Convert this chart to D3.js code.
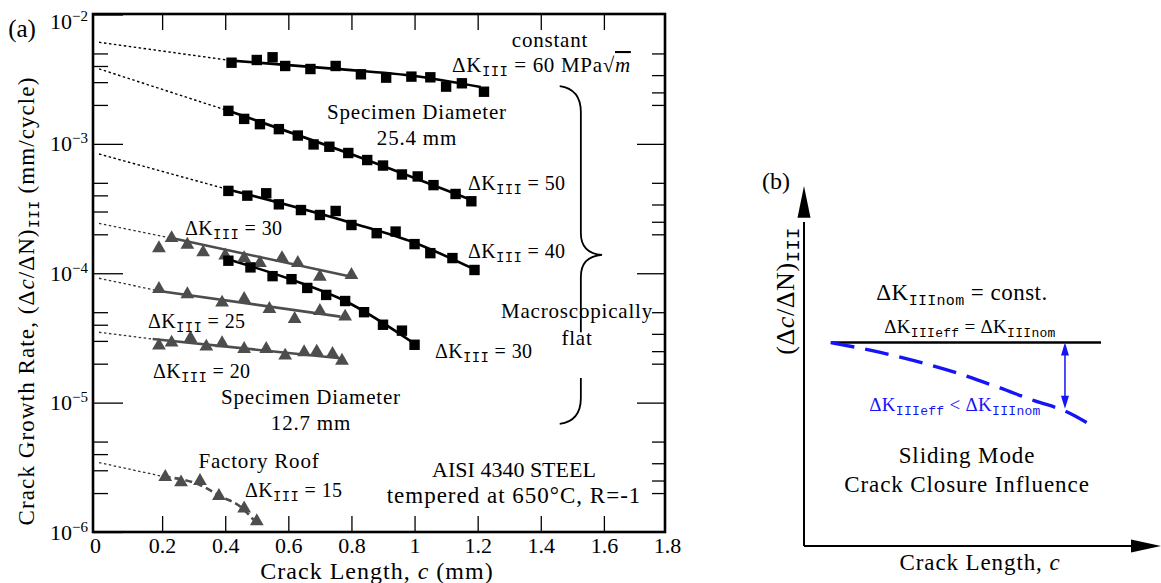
<!DOCTYPE html>
<html><head><meta charset="utf-8">
<script src="https://cdn.jsdelivr.net/npm/d3@7/dist/d3.min.js"></script>
<style>
body{margin:0;background:#fff;}
svg text{font-family:"Liberation Serif","Times New Roman",serif;fill:#000;}
</style></head>
<body><svg id="chart" width="1161" height="583" xmlns="http://www.w3.org/2000/svg"></svg>
<script>
// ================= DATA =================
// Panel (a): crack length c (mm) vs crack growth rate dc/dN (mm/cycle)
const xTickValues = [0, 0.2, 0.4, 0.6, 0.8, 1.0, 1.2, 1.4, 1.6, 1.8];
const xInnerTicks = [0.2, 0.4, 0.6, 0.8, 1.0, 1.2, 1.4, 1.6];
const yDecades = [1e-6, 1e-5, 1e-4, 1e-3, 1e-2];
const leftMinorMultipliers = [2, 3, 4, 5];
const rightMinorMultipliers = [2, 2.5, 3.4, 5];

// Specimen diameter 25.4 mm (squares)
const sq60 = [[0.42,4.24e-3],[0.50,4.45e-3],[0.55,4.67e-3],[0.59,4.0e-3],[0.67,3.79e-3],[0.75,4.0e-3],[0.83,3.45e-3],[0.91,3.25e-3],[0.99,3.31e-3],[1.05,3.27e-3],[1.10,2.77e-3],[1.15,2.94e-3],[1.22,2.53e-3]];
const fit60 = [[0.42,4.4e-3],[0.75,3.8e-3],[1.0,3.35e-3],[1.21,2.75e-3]];
const ext60 = [[0,6.1e-3],[0.42,4.4e-3]];

const sq50 = [[0.41,1.80e-3],[0.46,1.56e-3],[0.51,1.42e-3],[0.57,1.30e-3],[0.63,1.16e-3],[0.68,9.9e-4],[0.73,9.5e-4],[0.79,8.5e-4],[0.85,7.5e-4],[0.90,6.8e-4],[0.96,5.8e-4],[1.01,5.6e-4],[1.06,4.8e-4],[1.13,4.1e-4],[1.18,3.6e-4]];
const fit50 = [[0.41,1.8e-3],[0.8,8.3e-4],[1.19,3.6e-4]];
const ext50 = [[0,3.8e-3],[0.41,1.8e-3]];

const sq40 = [[0.41,4.33e-4],[0.47,3.98e-4],[0.53,4.15e-4],[0.57,3.41e-4],[0.64,3.08e-4],[0.70,2.82e-4],[0.75,3.03e-4],[0.80,2.36e-4],[0.88,2.04e-4],[0.94,2.10e-4],[1.00,1.68e-4],[1.05,1.43e-4],[1.12,1.31e-4],[1.19,1.06e-4]];
const fit40 = [[0.40,4.5e-4],[0.8,2.45e-4],[1.0,1.72e-4],[1.19,1.07e-4]];
const ext40 = [[0,8.35e-4],[0.40,4.5e-4]];

const sq30 = [[0.41,1.25e-4],[0.48,1.11e-4],[0.55,9.5e-5],[0.61,9.0e-5],[0.66,7.7e-5],[0.72,6.8e-5],[0.78,6.1e-5],[0.84,5.0e-5],[0.90,4.0e-5],[0.96,3.6e-5],[1.00,2.8e-5]];
const fitS30 = [[0.40,1.3e-4],[0.6,9.1e-5],[0.78,6.1e-5],[1.0,2.85e-5]];

// Specimen diameter 12.7 mm (triangles)
const tri30 = [[0.19,1.56e-4],[0.23,1.87e-4],[0.28,1.66e-4],[0.33,1.45e-4],[0.40,1.37e-4],[0.46,1.31e-4],[0.51,1.20e-4],[0.58,1.31e-4],[0.63,1.20e-4],[0.70,9.4e-5],[0.80,9.7e-5]];
const fitT30 = [[0.23,1.87e-4],[0.80,9.4e-5]];
const extT30 = [[0,2.43e-4],[0.23,1.87e-4]];

const tri25 = [[0.19,7.56e-5],[0.28,6.88e-5],[0.39,5.93e-5],[0.46,6.33e-5],[0.54,5.30e-5],[0.62,4.43e-5],[0.70,5.11e-5],[0.78,4.62e-5]];
const fitT25 = [[0.19,7.3e-5],[0.765,4.62e-5]];
const extT25 = [[0,9.15e-5],[0.19,7.3e-5]];

const tri20 = [[0.19,2.76e-5],[0.23,2.91e-5],[0.29,3.15e-5],[0.34,2.71e-5],[0.39,2.88e-5],[0.46,2.60e-5],[0.53,2.60e-5],[0.59,2.31e-5],[0.65,2.45e-5],[0.69,2.48e-5],[0.74,2.38e-5],[0.77,2.11e-5]];
const fitT20 = [[0.17,3.1e-5],[0.765,2.2e-5]];
const extT20 = [[0,3.5e-5],[0.17,3.1e-5]];

// Factory roof, dK = 15
const roof15 = [[0.21,2.66e-6],[0.26,2.42e-6],[0.32,2.48e-6],[0.38,1.90e-6],[0.46,1.52e-6],[0.50,1.21e-6]];
const fitR15 = [[0.205,2.68e-6],[0.32,2.31e-6],[0.384,1.90e-6],[0.455,1.52e-6],[0.49,1.24e-6]];
const extR15 = [[0,3.44e-6],[0.205,2.68e-6]];

// Panel (b): schematic, normalised units (0..1)
const bNominal = [[0.075,0.565],[0.832,0.565]];
const bEffective = [[0.075,0.565],[0.185,0.544],[0.311,0.514],[0.437,0.478],[0.549,0.439],[0.647,0.403],[0.731,0.375],[0.815,0.329]];
const bGap = [[0.731,0.565],[0.731,0.381]];

// ================= DRAWING =================
const svg = d3.select('#chart');
const BLACK = '#000', GRAY = '#4d4d4d', BLUE = '#1414f5';
const MONO = '"Liberation Mono","DejaVu Sans Mono",monospace';

const x = d3.scaleLinear().domain([0, 1.8]).range([99, 667]);
const y = d3.scaleLog().domain([1e-6, 1e-2]).range([532, 14.5]);
const F = {l: 93, r: 665, t: 14, b: 532};

function rich(g, px, py, parts, o) {
  const t = g.append('text').attr('x', px).attr('y', py)
    .attr('font-size', o.size).attr('text-anchor', o.anchor || 'start')
    .attr('letter-spacing', o.ls || 0);
  if (o.color) t.style('fill', o.color);
  if (o.rotate) t.attr('transform', `rotate(${o.rotate},${px},${py})`);
  let shifted = 0;
  parts.forEach(p => {
    const s = t.append('tspan').text(p.t);
    if (p.sub) {
      s.attr('font-family', MONO).attr('font-size', o.sub).attr('letter-spacing', 0.3)
       .attr('dy', o.subShift - shifted);
      shifted = o.subShift;
    } else if (shifted) { s.attr('dy', -shifted); shifted = 0; }
    if (p.it) s.attr('font-style', 'italic');
    if (p.over) s.style('text-decoration', 'overline');
  });
  return t;
}

const gA = svg.append('g');

// ticks
function styleAxis(g) { g.select('.domain').remove(); g.selectAll('line').attr('stroke', BLACK).attr('stroke-width', 1.3); g.attr('font-family', null); }
gA.append('g').attr('transform', `translate(0,${F.b})`)
  .call(d3.axisBottom(x).tickValues(xInnerTicks).tickSize(-16).tickFormat('')).call(styleAxis);
gA.append('g').attr('transform', `translate(0,${F.t})`)
  .call(d3.axisTop(x).tickValues(xInnerTicks).tickSize(-16).tickFormat('')).call(styleAxis);
const xl = gA.append('g').attr('transform', `translate(0,${F.b})`)
  .call(d3.axisBottom(x).tickValues(xTickValues).tickSize(0).tickPadding(5)
    .tickFormat(d => String(Math.round(d * 10) / 10))).call(styleAxis);
xl.selectAll('text').attr('font-size', 22).filter(d => d === 0).attr('dx', -4);

const leftMinor = [], rightMinor = [];
yDecades.slice(0, 4).forEach(dec => {
  leftMinorMultipliers.forEach(m => leftMinor.push(dec * m));
  rightMinorMultipliers.forEach(m => rightMinor.push(dec * m));
});
gA.append('g').attr('transform', `translate(${F.l},0)`)
  .call(d3.axisLeft(y).tickValues(leftMinor).tickSize(-15).tickFormat('')).call(styleAxis);
gA.append('g').attr('transform', `translate(${F.r},0)`)
  .call(d3.axisRight(y).tickValues(rightMinor).tickSize(-13).tickFormat('')).call(styleAxis);
gA.append('g').attr('transform', `translate(${F.r},0)`)
  .call(d3.axisRight(y).tickValues(yDecades.slice(1, 4)).tickSize(-28).tickFormat('')).call(styleAxis);
const yl = gA.append('g').attr('transform', `translate(${F.l},0)`)
  .call(d3.axisLeft(y).tickValues(yDecades).tickSize(-30).tickPadding(5).tickFormat(d => String(d))).call(styleAxis);
yl.selectAll('text').each(function(d) {
  const t = d3.select(this).attr('font-size', 22);
  const e = Math.round(Math.log10(d));
  t.text(null);
  t.append('tspan').text('10');
  t.append('tspan').attr('dy', -8).attr('font-size', 15).text('\u2212' + Math.abs(e));
  if (e === -2) t.attr('y', 7);
});

// frame
gA.append('rect').attr('x', F.l).attr('y', F.t).attr('width', F.r - F.l).attr('height', F.b - F.t)
  .attr('fill', 'none').attr('stroke', BLACK).attr('stroke-width', 2.6);

// lines
const lin = d3.line().x(d => x(d[0])).y(d => y(d[1]));
const crv = d3.line().x(d => x(d[0])).y(d => y(d[1])).curve(d3.curveMonotoneX);
const gL = gA.append('g').attr('fill', 'none');
[ext60, ext50, ext40].forEach(e => gL.append('path').attr('d', lin(e)).attr('stroke', BLACK).attr('stroke-width', 1.4).attr('stroke-dasharray', '2.5,2.5'));
[extT30, extT25, extT20, extR15].forEach(e => gL.append('path').attr('d', lin(e)).attr('stroke', '#333').attr('stroke-width', 1.3).attr('stroke-dasharray', '2.5,2.5'));
[fitT30, fitT25, fitT20].forEach(f => gL.append('path').attr('d', lin(f)).attr('stroke', GRAY).attr('stroke-width', 2.6));
gL.append('path').attr('d', crv(fitR15)).attr('stroke', GRAY).attr('stroke-width', 2.6).attr('stroke-dasharray', '7,4');
[fit60, fit50, fit40, fitS30].forEach(f => gL.append('path').attr('d', crv(f)).attr('stroke', BLACK).attr('stroke-width', 2.6));

// markers
const tri = d3.symbol(d3.symbolTriangle, 82);
[tri30, tri25, tri20, roof15].forEach(s => gA.append('g').selectAll('path').data(s).join('path')
  .attr('d', tri).attr('transform', d => `translate(${x(d[0])},${y(d[1])})`).attr('fill', GRAY));
[sq60, sq50, sq40, sq30].forEach(s => gA.append('g').selectAll('rect').data(s).join('rect')
  .attr('x', d => x(d[0]) - 5.2).attr('y', d => y(d[1]) - 5.2).attr('width', 10.4).attr('height', 10.4).attr('fill', BLACK));

// annotations panel (a)
const dk = (px, py, rest, anchor) => rich(gA, px, py, [{t: '\u0394K'}, {t: 'III', sub: true}, {t: rest}],
  {size: 20, sub: 14, subShift: 4, ls: 0.4, anchor: anchor || 'start'});
const ann = (px, py, s, size, ls) => gA.append('text').attr('x', px).attr('y', py).attr('font-size', size || 21)
  .attr('letter-spacing', ls === undefined ? 0.8 : ls).attr('text-anchor', 'middle').text(s);

gA.append('text').attr('x', 22).attr('y', 37).attr('font-size', 25).attr('text-anchor', 'middle').text('(a)');
ann(550, 47, 'constant');
rich(gA, 452, 72, [{t: '\u0394K'}, {t: 'III', sub: true}, {t: ' = 60 MPa\u221A'}, {t: 'm', it: true, over: true}],
  {size: 21, sub: 14, subShift: 4, ls: 0.7});
ann(417, 119, 'Specimen Diameter');
ann(417, 145, '25.4 mm');
dk(468, 190, ' = 50');
dk(468, 258, ' = 40');
dk(185, 235, ' = 30');
dk(435, 358, ' = 30');
dk(148, 328, ' = 25');
dk(153, 378, ' = 20');
ann(311, 404, 'Specimen Diameter');
ann(311, 430, '12.7 mm');
ann(259, 468, 'Factory Roof');
dk(245, 497, ' = 15');
ann(514, 477, 'AISI 4340 STEEL', 22, 0);
ann(514, 503, 'tempered at 650\u00B0C, R=-1', 23, 1);
ann(577, 318, 'Macroscopically');
ann(577, 345, 'flat');

// curly brace (anchored to data-space positions)
const bxL = x(1.46), bxM = x(1.527), bxR = x(1.594);
const byT = y(2.8e-3), byM = y(1.385e-4), byB = y(6.84e-6);
const gapT = y(3.5e-5), gapB = y(1.55e-5);
gA.append('path').attr('fill', 'none').attr('stroke', BLACK).attr('stroke-width', 1.8)
  .attr('d', `M${bxL},${byT} C${bxL + 14},${byT + 2} ${bxM},${byT + 10} ${bxM},${byT + 26} L${bxM},${byM - 22}
   C${bxM},${byM - 8} ${bxM + 8},${byM - 1} ${bxR},${byM} C${bxM + 8},${byM + 1} ${bxM},${byM + 8} ${bxM},${byM + 22}
   L${bxM},${gapT} M${bxM},${gapB} L${bxM},${byB - 26} C${bxM},${byB - 10} ${bxL + 14},${byB - 2} ${bxL},${byB}`);

// axis titles
const xt = gA.append('text').attr('x', 377).attr('y', 579).attr('font-size', 24).attr('letter-spacing', 1)
  .attr('text-anchor', 'middle');
xt.append('tspan').text('Crack Length, ');
xt.append('tspan').attr('font-style', 'italic').text('c');
xt.append('tspan').text(' (mm)');

rich(gA, 34, 301, [{t: 'Crack Growth Rate, (\u0394'}, {t: 'c', it: true}, {t: '/\u0394N)'}, {t: 'III', sub: true}, {t: ' (mm/cycle)'}],
  {size: 23, sub: 15, subShift: 5, ls: 1.1, anchor: 'middle', rotate: -90});

// ================= PANEL (b) =================
const gB = svg.append('g');
const bx = d3.scaleLinear().domain([0, 1]).range([804, 1161]);
const by = d3.scaleLinear().domain([0, 1]).range([546, 186]);

gB.append('line').attr('x1', bx(0)).attr('y1', by(0)).attr('x2', bx(0)).attr('y2', by(0.9)).attr('stroke', BLACK).attr('stroke-width', 2);
gB.append('line').attr('x1', bx(0)).attr('y1', by(0)).attr('x2', bx(0.92)).attr('y2', by(0)).attr('stroke', BLACK).attr('stroke-width', 2);
gB.append('path').attr('d', `M${bx(0)},${by(1)} L${bx(0) - 6.5},${by(0.912)} L${bx(0) + 6.5},${by(0.912)} Z`).attr('fill', BLACK);
gB.append('path').attr('d', `M${bx(1)},${by(0)} L${bx(0.916)},${by(0) - 6.5} L${bx(0.916)},${by(0) + 6.5} Z`).attr('fill', BLACK);

const blin = d3.line().x(d => bx(d[0])).y(d => by(d[1]));
const bcrv = d3.line().x(d => bx(d[0])).y(d => by(d[1])).curve(d3.curveMonotoneX);
gB.append('path').attr('d', blin(bNominal)).attr('stroke', BLACK).attr('stroke-width', 2.5).attr('fill', 'none');
gB.append('path').attr('d', bcrv(bEffective)).attr('stroke', BLUE).attr('stroke-width', 3.4).attr('fill', 'none').attr('stroke-dasharray', '24,11');

// double arrow
const ax = bx(bGap[0][0]), ay1 = by(bGap[0][1]), ay2 = by(bGap[1][1]);
gB.append('line').attr('x1', ax).attr('x2', ax).attr('y1', ay1 + 10).attr('y2', ay2 - 10).attr('stroke', BLUE).attr('stroke-width', 1.5);
gB.append('path').attr('d', `M${ax},${ay1} L${ax - 4},${ay1 + 13} L${ax + 4},${ay1 + 13} Z`).attr('fill', BLUE);
gB.append('path').attr('d', `M${ax},${ay2} L${ax - 4},${ay2 - 13} L${ax + 4},${ay2 - 13} Z`).attr('fill', BLUE);

gB.append('text').attr('x', 776).attr('y', 189).attr('font-size', 24).attr('text-anchor', 'middle').text('(b)');
rich(gB, 794, 291, [{t: '(\u0394'}, {t: 'c', it: true}, {t: '/\u0394N)'}, {t: 'III', sub: true}],
  {size: 26, sub: 19, subShift: 5, ls: 0.6, anchor: 'middle', rotate: -90});
rich(gB, 962, 300, [{t: '\u0394K'}, {t: 'IIInom', sub: true}, {t: ' = const.'}], {size: 23, sub: 15, subShift: 5, ls: 0.5, anchor: 'middle'});
rich(gB, 970, 333, [{t: '\u0394K'}, {t: 'IIIeff', sub: true}, {t: ' = \u0394K'}, {t: 'IIInom', sub: true}], {size: 19, sub: 13, subShift: 4, ls: 0.3, anchor: 'middle'});
rich(gB, 955, 411, [{t: '\u0394K'}, {t: 'IIIeff', sub: true}, {t: ' < \u0394K'}, {t: 'IIInom', sub: true}], {size: 19, sub: 13, subShift: 4, ls: 0.3, anchor: 'middle', color: BLUE});
gB.append('text').attr('x', 967).attr('y', 463).attr('font-size', 23).attr('letter-spacing', 0.9).attr('text-anchor', 'middle').text('Sliding Mode');
gB.append('text').attr('x', 967).attr('y', 492).attr('font-size', 23).attr('letter-spacing', 0.9).attr('text-anchor', 'middle').text('Crack Closure Influence');
const bt = gB.append('text').attr('x', 980).attr('y', 570).attr('font-size', 23).attr('letter-spacing', 0.9).attr('text-anchor', 'middle');
bt.append('tspan').text('Crack Length, ');
bt.append('tspan').attr('font-style', 'italic').text('c');
</script>
</body></html>
